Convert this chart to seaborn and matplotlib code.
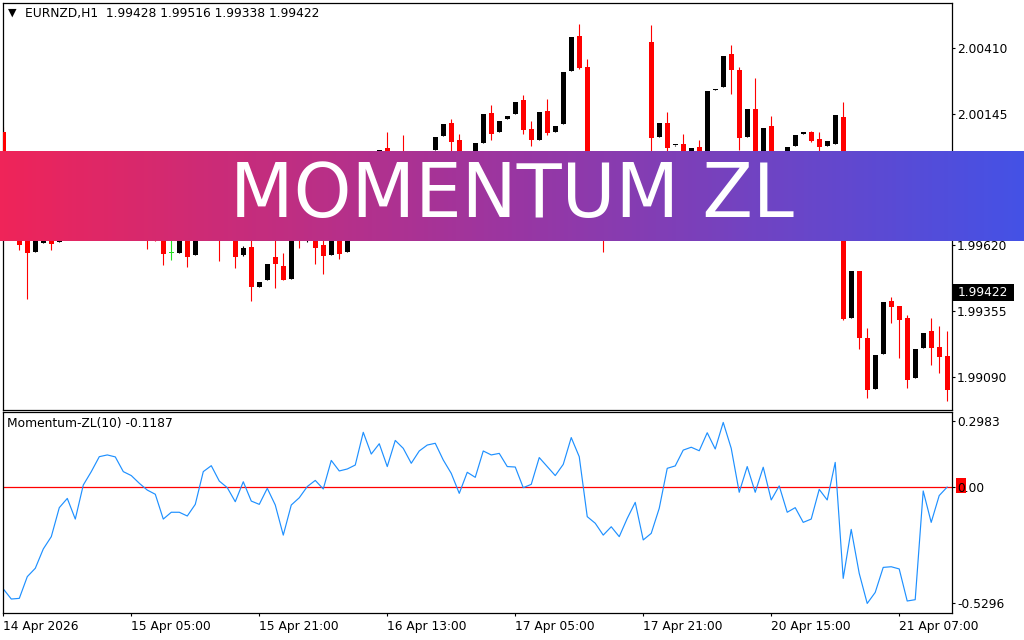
import numpy as np
import pandas as pd
import matplotlib
matplotlib.use("Agg")
import matplotlib.pyplot as plt
import seaborn as sns
from matplotlib.patches import Rectangle
from matplotlib.colors import LinearSegmentedColormap

sns.set_theme(style="white")
plt.rcParams['font.family'] = ['DejaVu Sans']

# ---------------- data ----------------
opens = [2.00073, 1.99900, 1.99740, 1.99647, 1.99592, 1.99628, 1.99687, 1.99632, 1.99719, 1.99800,
         1.99740, 1.99820, 1.99880, 1.99912, 1.99872, 1.99820, 1.99780, 1.99752, 1.99727, 1.99679,
         1.99699, 1.99586, 1.99588, 1.99655, 1.99580, 1.99699, 1.99780, 1.99816, 1.99719, 1.99671,
         1.99579, 1.99611, 1.99452, 1.99480, 1.99571, 1.99535, 1.99484, 1.99687, 1.99639, 1.99679,
         1.99619, 1.99580, 1.99671, 1.99592, 1.99740, 1.99820, 1.99920, 1.99880, 2.00009, 1.99920,
         1.99960, 1.99900, 1.99860, 1.99940, 2.00000, 2.00057, 2.00109, 2.00041, 1.99940, 1.99880,
         2.00029, 2.00149, 2.00073, 2.00125, 2.00145, 2.00201, 2.00085, 2.00041, 2.00157, 2.00073,
         2.00105, 2.00318, 2.00458, 2.00334, 1.99800, 1.99740, 1.99679, 1.99719, 1.99780, 1.99840,
         1.99900, 2.00434, 2.00053, 2.00109, 2.00019, 2.00025, 1.99940, 2.00013, 1.99940, 2.00243,
         2.00253, 2.00386, 2.00322, 2.00053, 2.00165, 1.99920, 2.00097, 1.99920, 1.99880, 2.00017,
         2.00067, 2.00073, 2.00045, 2.00017, 2.00025, 2.00133, 1.99326, 1.99515, 1.99246, 1.99041,
         1.99181, 1.99394, 1.99374, 1.99326, 1.99085, 1.99206, 1.99274, 1.99210, 1.99173]
highs = [2.00093, 1.99940, 1.99780, 1.99687, 1.99679, 1.99719, 1.99711, 1.99740, 1.99820, 1.99820,
         1.99848, 1.99912, 1.99940, 1.99928, 1.99900, 1.99840, 1.99808, 1.99780, 1.99752, 1.99699,
         1.99727, 1.99659, 1.99679, 1.99679, 1.99719, 1.99800, 1.99840, 1.99840, 1.99740, 1.99699,
         1.99615, 1.99639, 1.99470, 1.99543, 1.99659, 1.99587, 1.99719, 1.99711, 1.99719, 1.99699,
         1.99639, 1.99699, 1.99687, 1.99760, 1.99840, 1.99940, 1.99952, 2.00000, 2.00073, 1.99980,
         2.00061, 1.99920, 1.99960, 1.99996, 2.00053, 2.00105, 2.00125, 2.00065, 1.99960, 2.00029,
         2.00145, 2.00181, 2.00117, 2.00137, 2.00193, 2.00221, 2.00117, 2.00153, 2.00205, 2.00097,
         2.00314, 2.00454, 2.00506, 2.00366, 1.99820, 1.99780, 1.99760, 1.99800, 1.99860, 1.99920,
         1.99940, 2.00502, 2.00109, 2.00153, 2.00022, 2.00065, 2.00009, 2.00041, 2.00237, 2.00246,
         2.00378, 2.00422, 2.00334, 2.00165, 2.00290, 2.00089, 2.00137, 1.99940, 2.00013, 2.00061,
         2.00070, 2.00077, 2.00073, 2.00037, 2.00141, 2.00193, 1.99515, 1.99515, 1.99286, 1.99177,
         1.99390, 1.99410, 1.99374, 1.99338, 1.99202, 1.99266, 1.99326, 1.99294, 1.99274]
lows = [1.99860, 1.99760, 1.99600, 1.99403, 1.99591, 1.99627, 1.99600, 1.99631, 1.99699, 1.99711,
        1.99719, 1.99800, 1.99860, 1.99840, 1.99800, 1.99752, 1.99719, 1.99699, 1.99604, 1.99635,
        1.99540, 1.99560, 1.99587, 1.99532, 1.99579, 1.99679, 1.99760, 1.99556, 1.99639, 1.99528,
        1.99575, 1.99395, 1.99450, 1.99478, 1.99448, 1.99478, 1.99482, 1.99608, 1.99631, 1.99544,
        1.99504, 1.99579, 1.99564, 1.99591, 1.99719, 1.99800, 1.99848, 1.99860, 1.99888, 1.99900,
        1.99880, 1.99820, 1.99840, 1.99928, 2.00000, 2.00057, 1.99992, 1.99912, 1.99860, 1.99860,
        2.00029, 2.00041, 2.00073, 2.00125, 2.00145, 2.00065, 2.00017, 2.00041, 2.00061, 2.00073,
        2.00105, 2.00318, 2.00326, 1.99760, 1.99699, 1.99591, 1.99659, 1.99687, 1.99760, 1.99820,
        1.99820, 1.99980, 2.00053, 1.99992, 2.00018, 1.99940, 1.99928, 1.99940, 1.99928, 2.00242,
        2.00253, 2.00225, 2.00000, 2.00053, 1.99900, 1.99912, 1.99880, 1.99840, 1.99860, 2.00017,
        2.00066, 2.00033, 1.99960, 2.00017, 2.00025, 1.99318, 1.99326, 1.99202, 1.99005, 1.99041,
        1.99181, 1.99306, 1.99165, 1.99045, 1.99085, 1.99206, 1.99137, 1.99105, 1.98993]
closes = [1.99900, 1.99800, 1.99620, 1.99588, 1.99655, 1.99699, 1.99624, 1.99719, 1.99800, 1.99740,
          1.99820, 1.99880, 1.99912, 1.99872, 1.99820, 1.99780, 1.99752, 1.99727, 1.99679, 1.99647,
          1.99584, 1.99586, 1.99659, 1.99572, 1.99699, 1.99780, 1.99820, 1.99719, 1.99659, 1.99572,
          1.99607, 1.99452, 1.99470, 1.99543, 1.99544, 1.99480, 1.99699, 1.99639, 1.99699, 1.99608,
          1.99576, 1.99679, 1.99584, 1.99740, 1.99820, 1.99920, 1.99880, 2.00000, 1.99920, 1.99960,
          1.99900, 1.99860, 1.99940, 1.99996, 2.00053, 2.00105, 2.00034, 1.99940, 1.99900, 2.00029,
          2.00145, 2.00065, 2.00117, 2.00137, 2.00193, 2.00081, 2.00041, 2.00153, 2.00069, 2.00097,
          2.00314, 2.00454, 2.00330, 1.99800, 1.99740, 1.99679, 1.99740, 1.99780, 1.99840, 1.99900,
          1.99860, 2.00049, 2.00109, 2.00009, 2.00021, 1.99960, 2.00009, 1.99968, 2.00237, 2.00245,
          2.00378, 2.00322, 2.00049, 2.00165, 1.99940, 2.00089, 1.99920, 1.99880, 2.00013, 2.00061,
          2.00069, 2.00037, 2.00013, 2.00037, 2.00141, 1.99322, 1.99515, 1.99246, 1.99037, 1.99177,
          1.99390, 1.99370, 1.99318, 1.99077, 1.99202, 1.99266, 1.99206, 1.99169, 1.99037]
momentum = [-0.464, -0.510, -0.507, -0.408, -0.370, -0.282, -0.226, -0.094, -0.052, -0.146,
            0.009, 0.070, 0.138, 0.146, 0.137, 0.070, 0.052, 0.017, -0.014, -0.033,
            -0.146, -0.115, -0.115, -0.132, -0.079, 0.070, 0.097, 0.027, -0.003, -0.067,
            0.024, -0.064, -0.079, -0.006, -0.082, -0.219, -0.082, -0.049, 0.002, 0.030,
            -0.009, 0.121, 0.073, 0.082, 0.100, 0.249, 0.150, 0.197, 0.093, 0.212,
            0.176, 0.108, 0.164, 0.191, 0.199, 0.123, 0.062, -0.029, 0.067, 0.044,
            0.164, 0.146, 0.153, 0.093, 0.091, -0.003, 0.012, 0.134, 0.093, 0.052,
            0.103, 0.225, 0.138, -0.135, -0.165, -0.219, -0.181, -0.226, -0.143, -0.070,
            -0.241, -0.211, -0.097, 0.085, 0.096, 0.168, 0.181, 0.165, 0.247, 0.173,
            0.294, 0.176, -0.024, 0.093, -0.024, 0.090, -0.059, 0.005, -0.115, -0.094,
            -0.161, -0.146, -0.011, -0.059, 0.112, -0.416, -0.193, -0.393, -0.530, -0.480,
            -0.366, -0.363, -0.373, -0.519, -0.513, -0.018, -0.161, -0.039, 0.000]

time_tick_bars = [0, 16, 32, 48, 64, 80, 96, 112]
time_tick_labels = ["14 Apr 2026", "15 Apr 05:00", "15 Apr 21:00", "16 Apr 13:00",
                    "17 Apr 05:00", "17 Apr 21:00", "20 Apr 15:00", "21 Apr 07:00"]
price_ticks = [2.00410, 2.00145, 1.99880, 1.99620, 1.99355, 1.99090]
price_tick_labels = ["2.00410", "2.00145", "1.99880", "1.99620", "1.99355", "1.99090"]
mom_ticks = [0.2983, 0.0, -0.5296]
mom_tick_labels = ["0.2983", "0.00", "-0.5296"]
header_text = "EURNZD,H1  1.99428 1.99516 1.99338 1.99422"
indicator_text = "Momentum-ZL(10) -0.1187"
last_price_text = "1.99422"
banner_text = "MOMENTUM ZL"

# ---------------- figure ----------------
W, H = 1024, 640
fig = plt.figure(figsize=(W / 100, H / 100), dpi=100)
fig.patch.set_facecolor("white")


def fx(p):
    return p / W


def fy(p):
    return 1 - p / H


ax1 = fig.add_axes([fx(2.5), fy(409.5), fx(952) - fx(2.5), fy(2.5) - fy(409.5)])
ax2 = fig.add_axes([fx(2.5), fy(613), fx(952) - fx(2.5), fy(411.5) - fy(613)])

df = pd.DataFrame({"open": opens, "high": highs, "low": lows, "close": closes})
df["bar"] = np.arange(len(df))
colors = ["#22DD22" if o == c else ("black" if c > o else "#FF0000")
          for o, c in zip(df["open"], df["close"])]

ylim1 = (1.98959, 2.00593)
px = (ylim1[1] - ylim1[0]) / 407.0
ax1.vlines(df["bar"], df["low"], df["high"], colors=colors, lw=0.8, zorder=2)
body_h = np.maximum((df["close"] - df["open"]).abs(), px * 1.1)
body_b = np.minimum(df["open"], df["close"])
ax1.bar(df["bar"], body_h, bottom=body_b, width=0.62, color=colors, linewidth=0, zorder=3)
ax1.set_ylim(*ylim1)
ax1.set_xlim(-0.1, 118.6)

mdf = pd.DataFrame({"bar": np.arange(len(momentum)), "mom": momentum})
ax2.axhline(0, color="#FF0000", lw=0.9, zorder=1)
sns.lineplot(data=mdf, x="bar", y="mom", ax=ax2, color="#1E90FF", lw=0.85, zorder=2)
ax2.set_ylim(-0.5736, 0.3437)
ax2.set_xlim(-0.1, 118.6)
ax2.set_xlabel("")
ax2.set_ylabel("")

for ax in (ax1, ax2):
    ax.set_facecolor("white")
    for s in ax.spines.values():
        s.set_visible(True)
        s.set_color("black")
        s.set_linewidth(0.9)
    ax.grid(False)
    ax.yaxis.tick_right()
    ax.tick_params(axis="y", which="both", left=False, right=True, direction="out",
                   length=2.2, width=0.8, pad=1.5, labelsize=8.8, colors="black",
                   labelleft=False, labelright=True)

ax1.set_yticks(price_ticks)
ax1.set_yticklabels(price_tick_labels)
ax1.tick_params(axis="x", bottom=False, labelbottom=False)

ax2.set_yticks(mom_ticks)
ax2.set_yticklabels(mom_tick_labels)
ax2.set_xticks(time_tick_bars)
ax2.set_xticklabels(time_tick_labels, ha="left")
ax2.tick_params(axis="x", bottom=True, direction="out", length=2.2, width=0.8,
                pad=2.5, labelsize=8.8, colors="black")

# red marker behind the zero level label
fig.patches.append(Rectangle((fx(955.5), fy(493)), fx(10), 15 / H, transform=fig.transFigure,
                             facecolor="#FF0000", edgecolor="none", zorder=-1))

# last price box
fig.patches.append(Rectangle((fx(953), fy(301)), fx(61), 17 / H, transform=fig.transFigure,
                             facecolor="black", edgecolor="none", zorder=5))
fig.text(fx(957.5), fy(292.5), last_price_text, color="white", fontsize=8.8,
         va="center", ha="left", zorder=6)

# header texts
fig.text(fx(7.5), fy(13), "\u25BC", fontsize=8, va="center", ha="left", color="black")
fig.text(fx(25), fy(14), header_text, fontsize=8.8, va="center", ha="left", color="black")
fig.text(fx(7), fy(424), indicator_text, fontsize=8.8, va="center", ha="left", color="black")

# banner
axb = fig.add_axes([0, fy(240.8), 1, (240.8 - 151.3) / H], zorder=10)
grad = np.linspace(0, 1, 512).reshape(1, -1)
cmap = LinearSegmentedColormap.from_list(
    "banner", [(0.0, "#EF2459"), (0.5, "#9A36A2"), (1.0, "#4452E6")])
axb.imshow(grad, aspect="auto", cmap=cmap, extent=[0, 1, 0, 1])
axb.set_xlim(0, 1)
axb.set_ylim(0, 1)
axb.set_axis_off()
axb.text(511.5 / W, (240.8 - 217.3) / 89.5, banner_text, ha="center", va="baseline",
         color="white", fontsize=53, transform=axb.transAxes)

fig.savefig("out.png", dpi=100)
